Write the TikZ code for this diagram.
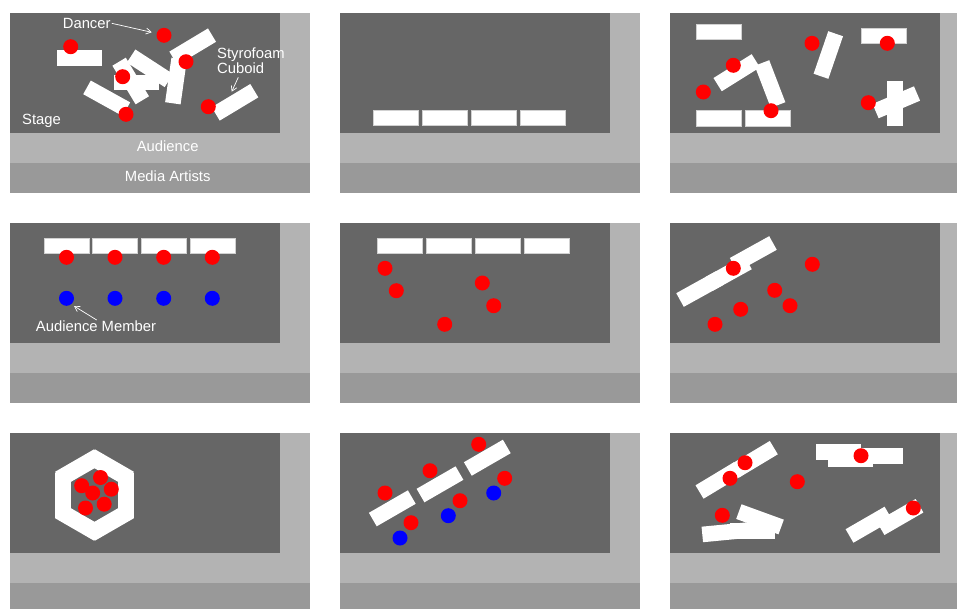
\documentclass[tikz,border=0pt]{standalone}
\usepackage{fontspec}
\setmainfont{Liberation Sans}
\usetikzlibrary{arrows.meta}
\definecolor{stagegray}{HTML}{666666}
\definecolor{audgray}{HTML}{B3B3B3}
\definecolor{medgray}{HTML}{999999}
\definecolor{dred}{HTML}{FF0000}
\definecolor{dblue}{HTML}{0000FF}
\tikzset{
  cubst/.style={fill=white},
  rowst/.style={fill=white, draw=black!18, line width=0.5pt},
  lbl/.style={text=white, font=\fontsize{14.8}{15}\selectfont, inner sep=1pt},
  arr/.style={draw=white, line width=0.7pt, -{Straight Barb[length=5pt,width=6pt]}},
}
\newcommand\panelbg{%
  \fill[medgray] (10,163) rectangle (310,193);
  \fill[audgray] (10,133) rectangle (310,163);
  \fill[audgray] (280,13) rectangle (310,163);
  \fill[stagegray] (10,13) rectangle (280,133);}
\newcommand\cub[3]{\path[cubst, shift={(#1,#2)}, rotate=#3] (-22.5,-7.8) rectangle (22.5,7.8);}
\newcommand\rowcub[2]{\path[rowst] (#1-22.5,#2-7.6) rectangle (#1+22.5,#2+7.6);}
\newcommand\rdot[2]{\fill[dred] (#1,#2) circle[radius=7.5pt];}
\newcommand\bdot[2]{\fill[dblue] (#1,#2) circle[radius=7.5pt];}
\begin{document}
\begin{tikzpicture}[x=1pt,y=-1pt]
\useasboundingbox (0,0) rectangle (957,608);
\clip (0,0) rectangle (957,608);
% ---------- panel 1
\begin{scope}
  \panelbg
  \cub{79.7}{58.2}{0}
  \rdot{70.7}{46.7}
  \cub{106.7}{98.3}{-29}
  \cub{136}{82.3}{0}
  \cub{130.7}{81}{-59}
  \cub{150}{68.3}{-33}
  \cub{176}{81}{82}
  \cub{192.7}{46.7}{31}
  \cub{235}{102.3}{31}
  \rdot{164}{35.3}
  \rdot{186}{61.7}
  \rdot{122.7}{76.7}
  \rdot{126}{114.3}
  \rdot{208.3}{106.7}
  \node[lbl] (dancer) at (86.7,23.3) {Dancer};
  \coordinate (dancertip) at (151.7,32.3);
  \draw[arr] (dancer.east) -- (dancertip);
  \node[lbl, align=left, anchor=west] (styro) at (216,61) {Styrofoam\\Cuboid};
  \coordinate (styrotail) at (238.3,77.3);
  \coordinate (styrotip) at (231.7,91.7);
  \draw[arr] (styrotail) -- (styrotip);
  \node[lbl, anchor=west] (stage) at (21,121) {Stage};
  \node[lbl] (aud) at (167.7,146.7) {Audience};
  \node[lbl] (media) at (167.7,176.7) {Media Artists};
\end{scope}
% ---------- panel 2
\begin{scope}[shift={(330,0)}]
  \panelbg
  \foreach \x in {66,114.8,163.7,212.5} {\rowcub{\x}{118}}
\end{scope}
% ---------- panel 3
\begin{scope}[shift={(660,0)}]
  \panelbg
  \rowcub{58.5}{31.8}
  \cub{76.7}{72.7}{32}
  \cub{110}{84}{-69}
  \rowcub{58.5}{118.3}
  \rowcub{107.5}{118.3}
  \cub{168.3}{55}{71}
  \rowcub{223.5}{35.8}
  \cub{234.8}{103.5}{90}
  \cub{236.3}{102.3}{23}
  \rdot{43.3}{92}
  \rdot{73.3}{65.3}
  \rdot{111}{110.7}
  \rdot{152}{43.3}
  \rdot{227.3}{43.3}
  \rdot{208.3}{102.7}
\end{scope}
% ---------- panel 4
\begin{scope}[shift={(0,210)}]
  \panelbg
  \foreach \x in {66.3,115,163.7,212.5} {\rowcub{\x}{35.8}}
  \foreach \x in {66.5,115,163.7,212.3} {\rdot{\x}{47.3}\bdot{\x}{88.3}}
  \node[lbl] (audmem) at (96,116.7) {Audience Member};
  \coordinate (audtail) at (96.7,110);
  \coordinate (audtip) at (74,96);
  \draw[arr] (audtail) -- (audtip);
\end{scope}
% ---------- panel 5
\begin{scope}[shift={(330,210)}]
  \panelbg
  \foreach \x in {69.8,118.8,167.5,216.5} {\rowcub{\x}{35.8}}
  \rdot{55}{58.3}
  \rdot{66.3}{80.7}
  \rdot{152.3}{73}
  \rdot{163.7}{95.7}
  \rdot{114.7}{114.3}
\end{scope}
% ---------- panel 6
\begin{scope}[shift={(660,210)}]
  \panelbg
  \cub{39.7}{79.1}{29}
  \cub{68.3}{63.3}{29}
  \cub{93.3}{43.9}{29}
  \rdot{73.3}{58.3}
  \rdot{152.3}{54.3}
  \rdot{114.7}{80.3}
  \rdot{130}{95.7}
  \rdot{80.7}{99.3}
  \rdot{55}{114.3}
\end{scope}
% ---------- panel 7
\begin{scope}[shift={(0,420)}]
  \panelbg
  \foreach \a in {0,60,...,300} {
    \path[cubst, shift={(94.5,75)}, rotate=\a, shift={(31.5,0)}, rotate=90] (-22.5,-8.3) rectangle (22.5,8.3);
  }
  \rdot{81.7}{65.7}
  \rdot{100.5}{57.5}
  \rdot{111.3}{69.2}
  \rdot{92.7}{73}
  \rdot{85.5}{88}
  \rdot{104.2}{84.2}
\end{scope}
% ---------- panel 8
\begin{scope}[shift={(330,420)}]
  \panelbg
  \cub{62.3}{88.3}{30}
  \cub{110}{64.3}{30}
  \cub{157.3}{37.7}{30}
  \rdot{55}{73}
  \rdot{81}{102.7}
  \rdot{100}{50.7}
  \rdot{130}{80.7}
  \rdot{148.7}{24.3}
  \rdot{174.7}{58.3}
  \bdot{70}{118}
  \bdot{118.3}{95.7}
  \bdot{163.7}{73}
\end{scope}
% ---------- panel 9
\begin{scope}[shift={(660,420)}]
  \panelbg
  \cub{58.8}{60.4}{31}
  \cub{94.5}{39.2}{31}
  \rdot{85}{42.7}
  \rdot{70}{58.3}
  \rdot{137.3}{61.7}
  \cub{178.8}{31.8}{0}
  \cub{190}{39.2}{0}
  \cub{220}{35.8}{0}
  \rdot{201}{35.7}
  \cub{64.7}{112.3}{5.5}
  \cub{92.5}{110.8}{0}
  \cub{100}{99.3}{-20}
  \rdot{62.3}{95.3}
  \cub{209}{104.7}{30}
  \cub{240}{97}{30}
  \rdot{253.3}{88}
\end{scope}
\end{tikzpicture}
\end{document}
